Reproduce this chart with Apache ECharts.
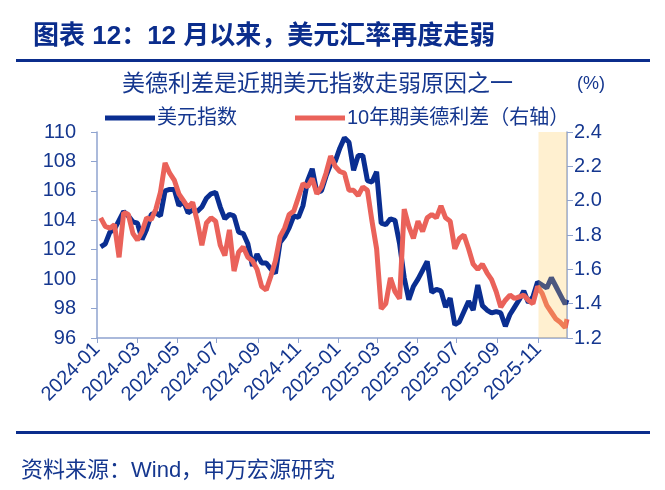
<!DOCTYPE html>
<html>
<head>
<meta charset="utf-8">
<script src="https://cdn.jsdelivr.net/npm/echarts@6/dist/echarts.min.js"></script>
<style>
  html, body { margin: 0; padding: 0; background: #fff; }
  #chart { width: 665px; height: 490px; }
</style>
</head>
<body>
<div id="chart"></div>
<script>
// weekly closes (Fridays from 2024-01-05 to 2025-12-12, then 2025-12-16)
const dxy = [
  102.2, 102.4, 103.2, 103.4, 104.0, 104.6, 104.3, 103.9, 103.8, 102.7,
  103.4, 104.4, 104.5, 104.3, 106.0, 106.1, 106.1, 105.0, 105.3, 104.5,
  104.7, 104.6, 104.9, 105.5, 105.8, 105.9, 104.9, 104.1, 104.4, 104.3,
  103.2, 103.1, 102.4, 100.9, 101.7, 101.1, 101.1, 100.7, 100.4, 102.5,
  102.9, 103.5, 104.3, 104.2, 105.0, 106.7, 107.5, 105.9, 106.0, 107.0,
  107.8, 108.0, 108.9, 109.6, 109.3, 107.4, 108.4, 108.4, 106.7, 106.6,
  107.3, 103.8, 103.7, 104.1, 104.0, 102.4, 100.1, 98.6, 99.5, 100.0,
  100.6, 101.2, 99.1, 99.3, 99.2, 98.1, 98.7, 96.9, 97.1, 97.8,
  98.5, 97.9, 99.6, 98.2, 97.9, 97.7, 97.8, 97.7, 96.8, 97.6,
  98.1, 98.6, 99.2, 98.4, 98.8, 99.8, 99.6, 99.4, 100.1, 99.5,
  98.9, 98.3, 98.6
];
const spread = [
  1.90, 1.85, 1.84, 1.86, 1.67, 1.93, 1.92, 1.81, 1.77, 1.82,
  1.90, 1.89, 1.95, 2.05, 2.22, 2.16, 2.12, 2.04, 2.00, 1.96,
  1.99, 1.88, 1.74, 1.87, 1.90, 1.88, 1.74, 1.68, 1.83, 1.59,
  1.70, 1.73, 1.67, 1.65, 1.60, 1.50, 1.48, 1.56, 1.65, 1.79,
  1.84, 1.92, 1.94, 2.02, 2.10, 2.08, 2.13, 2.04, 2.08, 2.16,
  2.26, 2.20, 2.17, 2.16, 2.06, 2.06, 2.03, 2.08, 2.06, 1.88,
  1.72, 1.37, 1.40, 1.55, 1.47, 1.43, 1.95, 1.85, 1.78, 1.88,
  1.82, 1.90, 1.92, 1.90, 1.97, 1.90, 1.88, 1.72, 1.78, 1.80,
  1.72, 1.63, 1.60, 1.63, 1.58, 1.54, 1.47, 1.38, 1.42, 1.45,
  1.43, 1.44, 1.45, 1.42, 1.40, 1.50, 1.46, 1.39, 1.35, 1.31,
  1.29, 1.26, 1.31
];
const leftTicks = [96, 110, 2];
const rightTicks = [1.2, 2.4, 0.2];
const lastDay = '2025-12-16';
const highlight = ['2025-11-03', lastDay];

// trading-day categories and weekly sample dates
const days = [];
const sampleDates = [];
for (let d = new Date(Date.UTC(2024, 0, 1)); d <= new Date(lastDay + 'T00:00:00Z'); d.setUTCDate(d.getUTCDate() + 1)) {
  const wd = d.getUTCDay();
  const s = d.toISOString().slice(0, 10);
  if (wd > 0 && wd < 6) days.push(s);
  if (wd === 5) sampleDates.push(s);
}
sampleDates.push(lastDay);

const isLabelDay = (i) => {
  const m = parseInt(days[i].slice(5, 7));
  const first = i === 0 || days[i - 1].slice(5, 7) !== days[i].slice(5, 7);
  return first && m % 2 === 1;
};

const navy = '#0B2D8C';
const textColor = '#15378F';
const axisColor = '#8FA3CF';
const font = "'Liberation Sans', 'Noto Sans CJK SC', sans-serif";

const myChart = echarts.init(document.getElementById('chart'));
const option = {
  animation: false,
  title: [
    {
      text: '图表 12：12 月以来，美元汇率再度走弱',
      left: 28, top: 19,
      textStyle: { color: navy, fontSize: 26, fontWeight: 'bold', fontFamily: font }
    },
    {
      text: '美德利差是近期美元指数走弱原因之一',
      left: 117, top: 68,
      textStyle: { color: textColor, fontSize: 23, fontWeight: 'normal', fontFamily: font }
    },
    {
      text: '(%)',
      left: 572, top: 70,
      textStyle: { color: textColor, fontSize: 18, fontWeight: 'normal', fontFamily: font }
    },
    {
      text: '资料来源：Wind，申万宏源研究',
      left: 16, top: 455,
      textStyle: { color: textColor, fontSize: 22, fontWeight: 'normal', fontFamily: font }
    }
  ],
  graphic: [
    { type: 'rect', shape: { x: 16, y: 59, width: 634, height: 3 }, style: { fill: navy } },
    { type: 'rect', shape: { x: 16, y: 431, width: 634, height: 3 }, style: { fill: navy } }
  ],
  legend: {
    left: 100, top: 103,
    itemWidth: 50, itemHeight: 5, itemGap: 58,
    icon: 'rect',
    textStyle: { color: textColor, fontSize: 20, fontFamily: font, padding: [0, 0, 0, -3] },
    data: ['美元指数', '10年期美德利差（右轴）']
  },
  grid: { left: 97, right: 98, top: 132, bottom: 152 },
  xAxis: {
    type: 'category',
    data: days,
    boundaryGap: false,
    axisLine: { lineStyle: { color: axisColor, width: 1.5 } },
    axisTick: { interval: isLabelDay, length: 5, lineStyle: { color: axisColor } },
    axisLabel: {
      interval: isLabelDay,
      rotate: 45,
      color: textColor,
      fontSize: 20,
      fontFamily: font,
      margin: 8,
      formatter: (v) => v.slice(0, 7)
    },
    splitLine: { show: false }
  },
  yAxis: [
    {
      type: 'value',
      min: leftTicks[0], max: leftTicks[1], interval: leftTicks[2],
      axisLine: { show: true, lineStyle: { color: axisColor, width: 1.5 } },
      axisTick: { show: true, length: 6, lineStyle: { color: axisColor } },
      axisLabel: { color: textColor, fontSize: 20, fontFamily: font, margin: 21 },
      splitLine: { show: false }
    },
    {
      type: 'value',
      min: rightTicks[0], max: rightTicks[1], interval: rightTicks[2],
      axisLine: { show: true, lineStyle: { color: axisColor, width: 1.5 } },
      axisTick: { show: true, length: 6, lineStyle: { color: axisColor } },
      axisLabel: { color: textColor, fontSize: 20, fontFamily: font, margin: 7, formatter: (v) => v.toFixed(1) },
      splitLine: { show: false }
    }
  ],
  series: [
    {
      name: '美元指数',
      type: 'line',
      yAxisIndex: 0,
      showSymbol: false,
      color: '#0A2E91',
      lineStyle: { width: 5, color: '#0A2E91' },
      data: sampleDates.map((d, i) => [d, dxy[i]])
    },
    {
      name: '10年期美德利差（右轴）',
      type: 'line',
      yAxisIndex: 1,
      showSymbol: false,
      color: '#EA625A',
      lineStyle: { width: 5, color: '#EA625A' },
      data: sampleDates.map((d, i) => [d, spread[i]]),
      markArea: {
        z: 5,
        silent: true,
        itemStyle: { color: 'rgba(255, 200, 80, 0.27)' },
        data: [[{ xAxis: highlight[0] }, { xAxis: highlight[1] }]]
      }
    }
  ]
};
myChart.setOption(option);
</script>
</body>
</html>
